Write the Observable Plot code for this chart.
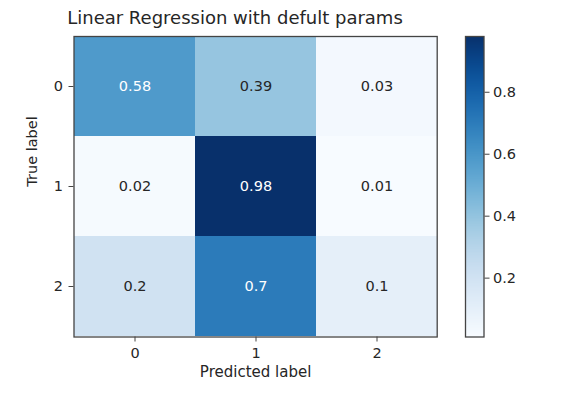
<!DOCTYPE html>
<html>
<head>
<meta charset="utf-8">
<script src="https://cdn.jsdelivr.net/npm/d3@7"></script>
<script src="https://cdn.jsdelivr.net/npm/@observablehq/plot@0.6"></script>
<style>
  html, body { margin: 0; padding: 0; background: #fff; }
  #wrap { position: relative; width: 566px; height: 393px; font-family: "DejaVu Sans", sans-serif; }
  #wrap > svg { position: absolute; top: 0; }
  #title { position: absolute; top: 7px; left: 0; width: 470px; text-align: center; font-size: 18px; line-height: 21px; color: #262626; white-space: nowrap; }
</style>
</head>
<body>
<div id="wrap"><div id="title">Linear Regression with defult params</div></div>
<script>
const classes = [0, 1, 2];
const tickLabels = ["0", "1", "2"];
const row0 = [0.58, 0.39, 0.03];
const row1 = [0.02, 0.98, 0.01];
const row2 = [0.2, 0.7, 0.1];
const cellText = [["0.58", "0.39", "0.03"], ["0.02", "0.98", "0.01"], ["0.2", "0.7", "0.1"]];
const colorbarTicks = [0.2, 0.4, 0.6, 0.8];
const colorDomain = [0.01, 0.98];

const rows = [row0, row1, row2];
const data = [];
rows.forEach((r, i) => r.forEach((v, j) => data.push({t: i, p: j, v, label: cellText[i][j]})));
const thresh = d3.max(data, d => d.v) / 2;

const W = 566, H = 393;
const mTop = 36, mBottom = 56.5;
const FS = 14.5;

const main = Plot.plot({
  width: W, height: H,
  marginLeft: 73.5, marginRight: W - 436.7, marginTop: mTop, marginBottom: mBottom,
  style: {fontFamily: "DejaVu Sans", fontSize: FS + "px", color: "#262626", background: "transparent"},
  x: {type: "band", domain: classes, padding: 0, tickFormat: i => tickLabels[i]},
  y: {type: "band", domain: classes, padding: 0, tickFormat: i => tickLabels[i]},
  color: {type: "linear", interpolate: d3.interpolateBlues, domain: colorDomain},
  marks: [
    Plot.cell(data, {x: "p", y: "t", fill: "v", inset: 0}),
    Plot.text(data, {x: "p", y: "t", text: "label", fontSize: FS,
      fill: d => d.v > thresh ? "white" : "#262626"}),
    Plot.frame({stroke: "#444", strokeWidth: 1.3}),
    Plot.axisX({tickSize: 5, tickPadding: 6, label: null, stroke: "#444", fontSize: FS}),
    Plot.axisY({tickSize: 5, tickPadding: 6, label: null, stroke: "#444", fontSize: FS}),
    Plot.text(["Predicted label"], {frameAnchor: "bottom", dy: 40, fontSize: 15, fill: "#262626"}),
    Plot.text(["True label"], {frameAnchor: "left", dx: -42, rotate: -90, fontSize: FS, fill: "#262626"})
  ]
});
main.style.left = "0px";
document.getElementById("wrap").appendChild(main);

const step = 0.002;
const steps = d3.range(colorDomain[0], colorDomain[1], step);
const cbLeft = 440, cbW = 126;
const cb = Plot.plot({
  width: cbW, height: H,
  marginLeft: 465 - cbLeft, marginRight: cbW - (483.5 - cbLeft), marginTop: mTop, marginBottom: mBottom,
  style: {fontFamily: "DejaVu Sans", fontSize: FS + "px", color: "#262626", background: "transparent"},
  y: {domain: colorDomain, ticks: colorbarTicks},
  color: {type: "linear", interpolate: d3.interpolateBlues, domain: colorDomain},
  marks: [
    Plot.rect(steps, {y1: d => d, y2: d => Math.min(d + step * 4, colorDomain[1]), fill: d => d, shapeRendering: "crispEdges"}),
    Plot.frame({stroke: "#444", strokeWidth: 1.3}),
    Plot.axisY({anchor: "right", ticks: colorbarTicks, tickSize: 5, tickPadding: 4, label: null, stroke: "#444", fontSize: FS, tickFormat: d3.format(".1f")})
  ]
});
cb.style.left = cbLeft + "px";
document.getElementById("wrap").appendChild(cb);
</script>
</body>
</html>
